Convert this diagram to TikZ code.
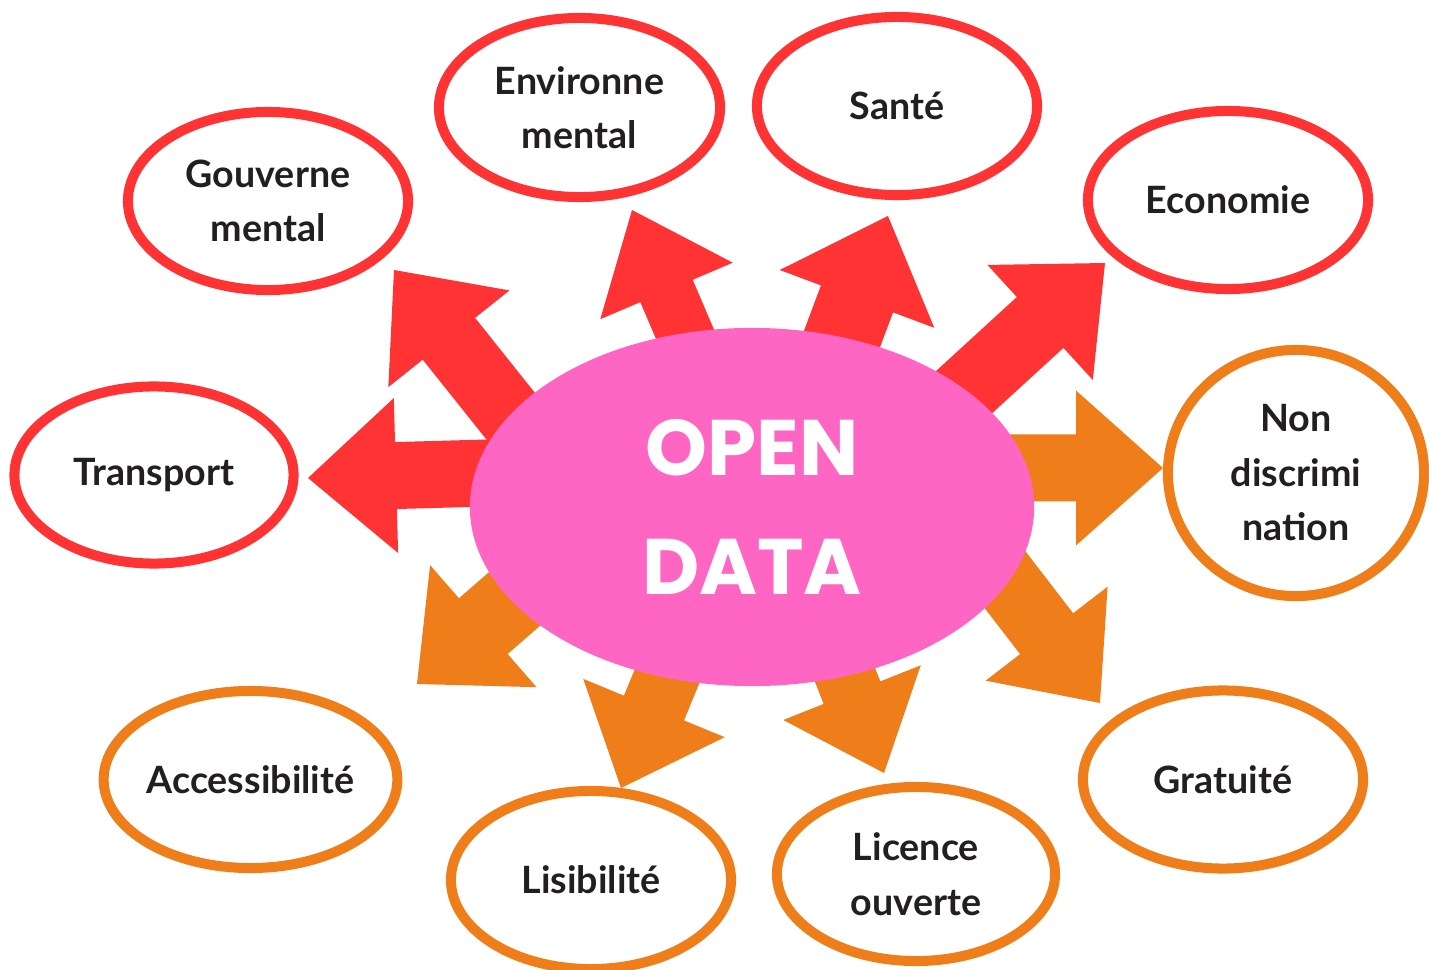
\documentclass[tikz,border=0pt]{standalone}
\usepackage{fontspec}
\setmainfont{Lato}
\newfontfamily\poppinsfont{Poppins}
\usetikzlibrary{shapes.geometric}

\definecolor{redline}{HTML}{FF3333}
\definecolor{orangeline}{HTML}{EE7D1A}
\definecolor{pinkfill}{HTML}{FF66C4}
\definecolor{labeltext}{HTML}{231F20}

\tikzset{
    bubble/.style={ellipse, line width=2.85pt, fill=white, inner sep=0pt, align=center,
        text=labeltext, font=\fontsize{10.7}{15.5}\selectfont\bfseries,
        minimum width=2.8cm, minimum height=1.78cm},
    redbubble/.style={bubble, draw=redline},
    orangebubble/.style={bubble, draw=orangeline},
    core/.style={ellipse, fill=pinkfill, inner sep=0pt, align=center, text=white,
        font=\poppinsfont\bfseries\fontsize{22.4}{33.6}\selectfont,
        minimum width=5.64cm, minimum height=3.58cm},
}

\begin{document}
\begin{tikzpicture}[x=0.01cm, y=-0.01cm]
    \useasboundingbox (0,0) rectangle (1429,970);

    % Arrow tips
    \coordinate (tipTransport) at (308,478);
    \coordinate (tipGouv) at (394,270);
    \coordinate (tipEnv) at (632,210);
    \coordinate (tipSante) at (888,216);
    \coordinate (tipEco) at (1105,263);
    \coordinate (tipNondis) at (1163,468);
    \coordinate (tipGratuite) at (1100,703);
    \coordinate (tipLicence) at (884,773);
    \coordinate (tipLisib) at (621,788);
    \coordinate (tipAccess) at (417,684);

    % Red arrows
    \begin{scope}[shift={(tipTransport)}, rotate=181.6]
        \fill[redline] (0,0) -- (-88,77.5) -- (-88,33.5) -- (-300,33.5) -- (-300,-33.5) -- (-88,-33.5) -- (-88,-77.5) -- cycle;
    \end{scope}
    \begin{scope}[shift={(tipGouv)}, rotate=128.6]
        \fill[redline] (0,0) -- (-88,77.5) -- (-88,33.5) -- (-300,33.5) -- (-300,-33.5) -- (-88,-33.5) -- (-88,-77.5) -- cycle;
    \end{scope}
    \begin{scope}[shift={(tipEnv)}, rotate=113.1]
        \fill[redline] (0,0) -- (-88,72) -- (-88,28.5) -- (-300,28.5) -- (-300,-28.5) -- (-88,-28.5) -- (-88,-72) -- cycle;
    \end{scope}
    \begin{scope}[shift={(tipSante)}, rotate=69.5]
        \fill[redline] (0,0) -- (-88.5,82.5) -- (-88.5,38.5) -- (-300,38.5) -- (-300,-38.5) -- (-88.5,-38.5) -- (-88.5,-82.5) -- cycle;
    \end{scope}
    \begin{scope}[shift={(tipEco)}, rotate=42.5]
        \fill[redline] (0,0) -- (-88,78) -- (-88,34.5) -- (-300,34.5) -- (-300,-34.5) -- (-88,-34.5) -- (-88,-78) -- cycle;
    \end{scope}

    % Orange arrows
    \begin{scope}[shift={(tipNondis)}, rotate=0]
        \fill[orangeline] (0,0) -- (-87,77.5) -- (-87,33.5) -- (-300,33.5) -- (-300,-33.5) -- (-87,-33.5) -- (-87,-77.5) -- cycle;
    \end{scope}
    \begin{scope}[shift={(tipGratuite)}, rotate=-52.4]
        \fill[orangeline] (0,0) -- (-87.5,77) -- (-87.5,33.5) -- (-300,33.5) -- (-300,-33.5) -- (-87.5,-33.5) -- (-87.5,-77) -- cycle;
    \end{scope}
    \begin{scope}[shift={(tipLicence)}, rotate=-68.3]
        \fill[orangeline] (0,0) -- (-86.5,74) -- (-86.5,30.5) -- (-300,30.5) -- (-300,-30.5) -- (-86.5,-30.5) -- (-86.5,-74) -- cycle;
    \end{scope}
    \begin{scope}[shift={(tipLisib)}, rotate=-112.4]
        \fill[orangeline] (0,0) -- (-86.5,76.5) -- (-86.5,32.5) -- (-300,32.5) -- (-300,-32.5) -- (-86.5,-32.5) -- (-86.5,-76.5) -- cycle;
    \end{scope}
    \begin{scope}[shift={(tipAccess)}, rotate=-138.9]
        \fill[orangeline] (0,0) -- (-88,81) -- (-88,37) -- (-300,37) -- (-300,-37) -- (-88,-37) -- (-88,-81) -- cycle;
    \end{scope}

    % Centre
    \node[core] (opendata) at (752,507) {OPEN\\DATA};

    % Red themes
    \node[redbubble] (gouv) at (268,201) {Gouverne\\mental};
    \node[redbubble, minimum width=2.81cm, minimum height=1.79cm] (env) at (579.5,107.5) {Environne\\mental};
    \node[redbubble] (sante) at (897,106) {Santé};
    \node[redbubble] (eco) at (1228,200) {Economie};
    \node[redbubble, minimum width=2.79cm, minimum height=1.77cm] (transport) at (154,475) {Transport};

    % Orange principles
    \node[orangebubble, minimum width=2.56cm, minimum height=2.46cm] (nondis) at (1296,473) {Non\\discrimi\\nation};
    \node[orangebubble, minimum width=2.93cm, minimum height=1.77cm] (access) at (250.5,779.5) {Accessibilité};
    \node[orangebubble] (lisib) at (591,880) {Lisibilité};
    \node[orangebubble, minimum width=2.78cm, minimum height=1.74cm] (licence) at (916,874) {Licence\\ouverte};
    \node[orangebubble] (gratuite) at (1223,779.5) {Gratuité};

\end{tikzpicture}
\end{document}
